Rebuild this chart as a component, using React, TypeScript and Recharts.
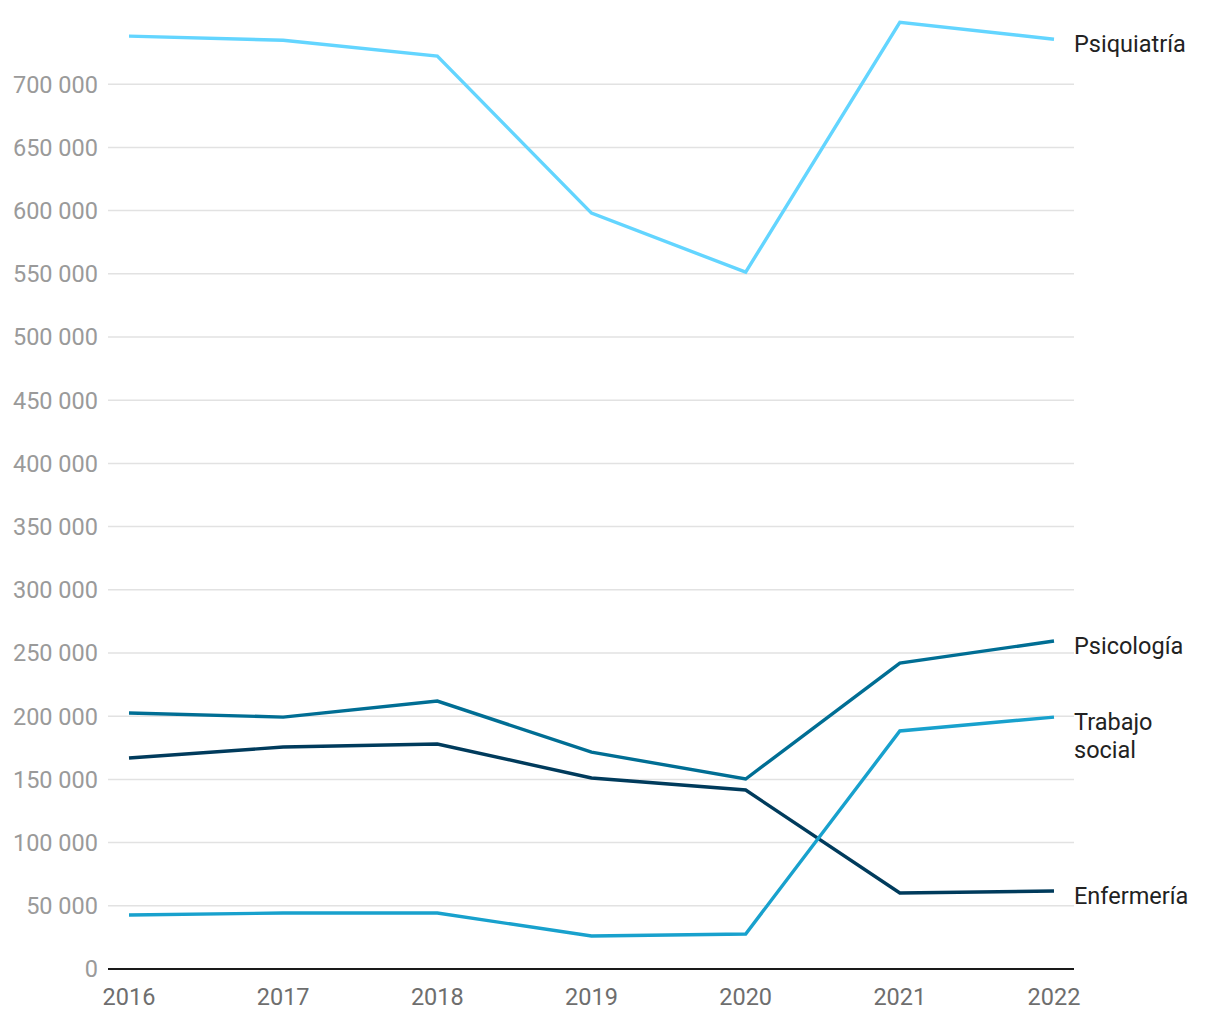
import { LineChart, Line, XAxis, YAxis, CartesianGrid, LabelList } from 'recharts'

const years = ['2016', '2017', '2018', '2019', '2020', '2021', '2022']
const psiquiatria = [738000, 734800, 722200, 598000, 551300, 749000, 735600]
const psicologia = [202500, 199300, 212000, 171600, 150300, 242000, 259500]
const trabajoSocial = [42700, 44300, 44300, 26100, 27700, 188300, 199300]
const enfermeria = [166900, 175600, 178000, 151100, 141600, 60100, 61700]
const yTicks = [0, 50000, 100000, 150000, 200000, 250000, 300000, 350000, 400000, 450000, 500000, 550000, 600000, 650000, 700000]

const data = years.map((year, i) => ({
  year,
  psiquiatria: psiquiatria[i],
  psicologia: psicologia[i],
  trabajoSocial: trabajoSocial[i],
  enfermeria: enfermeria[i],
}))

const FONT = 'Roboto, sans-serif'

const fmt = (v: number) => String(v).replace(/\B(?=(\d{3})+(?!\d))/g, ' ')

function endLabel(lines: string[]) {
  return (props: any) => {
    const { x, y, index } = props
    if (index !== years.length - 1) return null
    return (
      <text x={x + 20} y={y + 13} fill="#222" fontSize={23.5} fontFamily={FONT}>
        {lines.map((l, i) => (
          <tspan key={i} x={x + 20} dy={i === 0 ? 0 : 28}>
            {l}
          </tspan>
        ))}
      </text>
    )
  }
}

export default function App() {
  return (
    <div style={{ position: 'absolute', left: 0, top: 0, width: 1220, height: 1020, background: '#fff' }}>
      <LineChart width={1220} height={1020} data={data} margin={{ top: 21, right: 146, bottom: 0, left: 0 }}>
        <CartesianGrid vertical={false} stroke="#e2e2e2" strokeWidth={1.5} horizontalValues={yTicks.slice(1)} />
        <XAxis
          dataKey="year"
          height={51}
          padding={{ left: 21, right: 20 }}
          tickLine={false}
          tickMargin={13}
          axisLine={{ stroke: '#1a1a1a', strokeWidth: 2 }}
          tick={{ fontSize: 23.5, fill: '#6e6e6e', fontFamily: FONT }}
        />
        <YAxis
          width={108}
          domain={[0, 750000]}
          ticks={yTicks}
          interval={0}
          tickFormatter={fmt}
          axisLine={false}
          tickLine={false}
          tickMargin={4}
          tick={{ fontSize: 23.5, fill: '#9a9a9a', fontFamily: FONT }}
        />
        <Line dataKey="psiquiatria" stroke="#63d5ff" strokeWidth={3.4} dot={false} isAnimationActive={false}>
          <LabelList dataKey="psiquiatria" content={endLabel(['Psiquiatría'])} />
        </Line>
        <Line dataKey="psicologia" stroke="#006e94" strokeWidth={3.4} dot={false} isAnimationActive={false}>
          <LabelList dataKey="psicologia" content={endLabel(['Psicología'])} />
        </Line>
        <Line dataKey="enfermeria" stroke="#003b5c" strokeWidth={3.4} dot={false} isAnimationActive={false}>
          <LabelList dataKey="enfermeria" content={endLabel(['Enfermería'])} />
        </Line>
        <Line dataKey="trabajoSocial" stroke="#18a1cd" strokeWidth={3.4} dot={false} isAnimationActive={false}>
          <LabelList dataKey="trabajoSocial" content={endLabel(['Trabajo', 'social'])} />
        </Line>
      </LineChart>
    </div>
  )
}
